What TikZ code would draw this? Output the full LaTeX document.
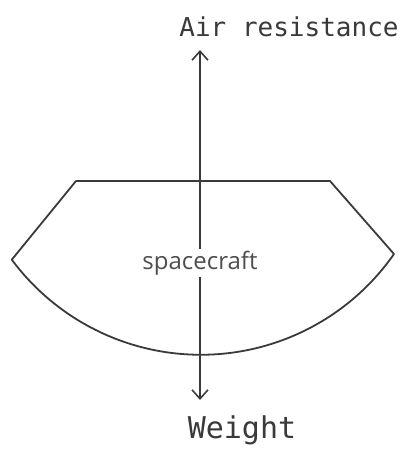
\documentclass[tikz,border=0pt]{standalone}
\usepackage{fontspec}
\setmainfont{Open Sans}
\newfontfamily\handfont{DejaVu Sans Mono}
\usetikzlibrary{arrows.meta}
\definecolor{ink}{HTML}{3A3A3A}
\tikzset{
  outline/.style={draw=ink, line width=1.8pt, line join=round},
  force/.style={draw=ink, line width=1.6pt, {Straight Barb[length=9pt,width=16pt]}-{Straight Barb[length=9pt,width=16pt]}},
  hand/.style={font=\handfont\fontsize{26}{30}\selectfont, text=ink, inner sep=0pt},
  craftlabel/.style={font=\fontsize{24}{28}\selectfont, text=ink!90, fill=white, inner sep=2pt}
}
\begin{document}
\begin{tikzpicture}[x=1pt,y=-1pt]
\useasboundingbox (0,0) rectangle (408,456);
\coordinate (tl) at (76,181);
\coordinate (tr) at (330,181);
\draw[outline] (tr) -- (394,254) arc[start angle=34.9, end angle=143.4, radius=235.5] -- (tl) -- cycle;
\coordinate (atop) at (200,50);
\coordinate (abot) at (200,400);
\draw[force] (atop) -- (abot);
\node[craftlabel] (craft) at (200,263) {spacecraft};
\node[hand] (air) at (289,27) {Air resistance};
\node[hand, font=\handfont\fontsize{30}{34}\selectfont] (weight) at (242,430) {Weight};
\end{tikzpicture}
\end{document}
